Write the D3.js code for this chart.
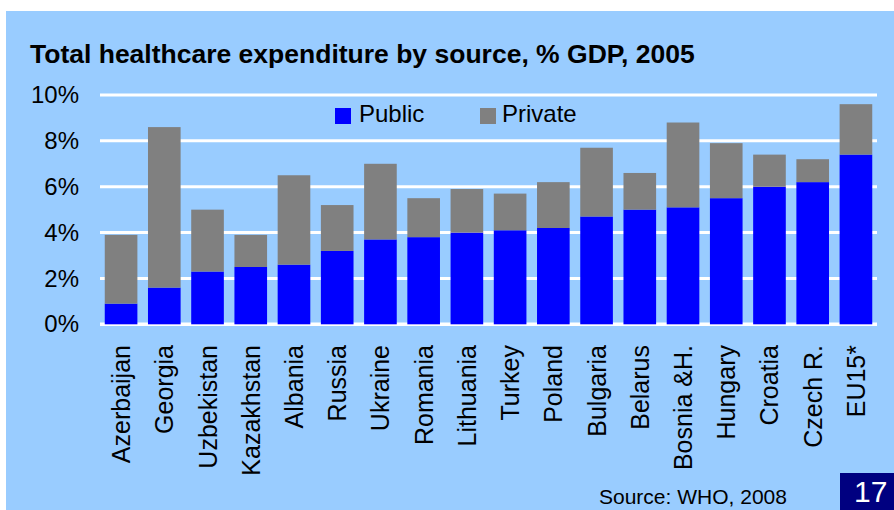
<!DOCTYPE html>
<html>
<head>
<meta charset="utf-8">
<script src="https://cdn.jsdelivr.net/npm/d3@7"></script>
<style>
  html, body { margin: 0; padding: 0; background: #ffffff; }
  svg { display: block; }
  text { font-family: "Liberation Sans", Arial, sans-serif; }
</style>
</head>
<body>
<svg id="chart" width="894" height="510"></svg>
<script>
const categories = ["Azerbaijan","Georgia","Uzbekistan","Kazakhstan","Albania","Russia","Ukraine","Romania","Lithuania","Turkey","Poland","Bulgaria","Belarus","Bosnia &H.","Hungary","Croatia","Czech R.","EU15*"];
const publicValues  = [0.9, 1.6, 2.3, 2.5, 2.6, 3.2, 3.7, 3.8, 4.0, 4.1, 4.2, 4.7, 5.0, 5.1, 5.5, 6.0, 6.2, 7.4];
const privateValues = [3.0, 7.0, 2.7, 1.4, 3.9, 2.0, 3.3, 1.7, 1.9, 1.6, 2.0, 3.0, 1.6, 3.7, 2.4, 1.4, 1.0, 2.2];
const yTicks = [0, 2, 4, 6, 8, 10];
const seriesNames = ["Public", "Private"];
const seriesColors = ["#0000ff", "#808080"];
const titleText = "Total healthcare expenditure by source, % GDP, 2005";
const sourceText = "Source: WHO, 2008";
const pageNumber = "17";

const svg = d3.select("#chart");

// background panel
svg.append("rect").attr("x", 6).attr("y", 11).attr("width", 888).attr("height", 499).attr("fill", "#99ccff");

// title
svg.append("text").attr("x", 30).attr("y", 63)
  .attr("font-size", 26.5).attr("font-weight", "bold").attr("fill", "#000")
  .text(titleText);

const x = d3.scaleBand().domain(categories).range([100, 877]).paddingInner(0.245).paddingOuter(0.11);
const y = d3.scaleLinear().domain([0, 10]).range([324.3, 95]);

// gridlines
svg.append("g").selectAll("line").data(yTicks).join("line")
  .attr("x1", 100).attr("x2", 877)
  .attr("y1", d => y(d)).attr("y2", d => y(d))
  .attr("stroke", "#ffffff").attr("stroke-width", d => d === 0 ? 3.5 : 3);

// y axis labels
const yAxis = d3.axisLeft(y).tickValues(yTicks).tickSize(0).tickPadding(21).tickFormat(d => d + "%");
const yg = svg.append("g").attr("transform", "translate(100,0)").call(yAxis);
yg.select(".domain").remove();
yg.selectAll("text").attr("font-size", 24).attr("fill", "#000").attr("font-family", "Liberation Sans, Arial, sans-serif");

// stacked bars
const rows = categories.map((c, i) => ({ cat: c, Public: publicValues[i], Private: privateValues[i] }));
const stack = d3.stack().keys(seriesNames)(rows);
svg.append("g").selectAll("g").data(stack).join("g")
  .attr("fill", (d, i) => seriesColors[i])
  .selectAll("rect").data(d => d).join("rect")
  .attr("x", d => x(d.data.cat))
  .attr("width", x.bandwidth())
  .attr("y", d => y(d[1]))
  .attr("height", d => y(d[0]) - y(d[1]));

// x labels (rotated)
svg.append("g").selectAll("text").data(categories).join("text")
  .attr("transform", d => `translate(${x(d) + x.bandwidth() / 2},345) rotate(-90)`)
  .attr("text-anchor", "end").attr("dy", "0.36em")
  .attr("font-size", 25).attr("fill", "#000")
  .text(d => d);

// legend
const legendX = [335, 480];
const lg = svg.append("g").selectAll("g").data(seriesNames).join("g")
  .attr("transform", (d, i) => `translate(${legendX[i]},108)`);
lg.append("rect").attr("width", 16).attr("height", 16).attr("fill", (d, i) => seriesColors[i]);
lg.append("text").attr("x", (d, i) => i === 0 ? 24 : 22).attr("y", 13.5)
  .attr("font-size", 24).attr("fill", "#000").text(d => d);

// source
svg.append("text").attr("x", 599).attr("y", 504).attr("font-size", 21).attr("fill", "#000").text(sourceText);

// page number box
svg.append("rect").attr("x", 840).attr("y", 473).attr("width", 54).attr("height", 37).attr("fill", "#000080");
svg.append("text").attr("x", 854).attr("y", 502).attr("font-size", 30).attr("fill", "#ffffff").text(pageNumber);
</script>
</body>
</html>
